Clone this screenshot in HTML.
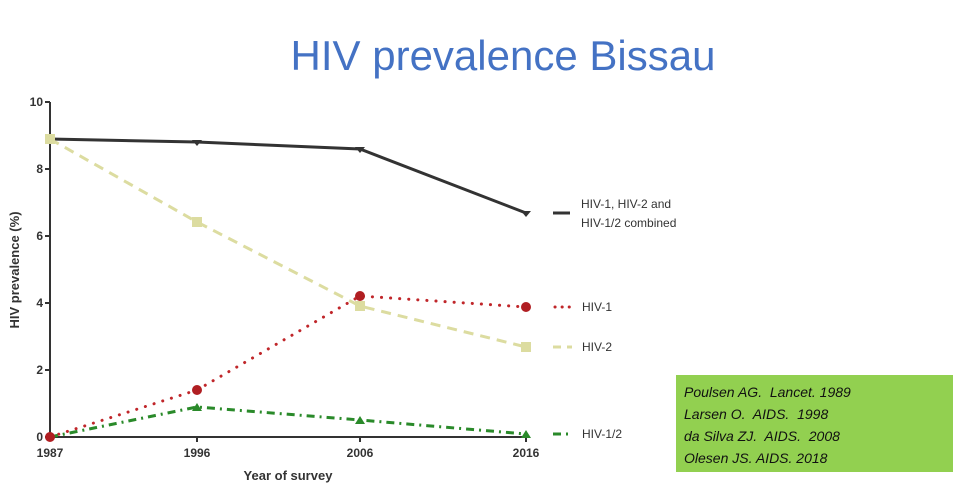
<!DOCTYPE html>
<html><head><style>
body{margin:0;background:#fff;width:964px;height:489px;overflow:hidden;font-family:"Liberation Sans",sans-serif}
</style></head><body>
<svg width="964" height="489" xmlns="http://www.w3.org/2000/svg" style="position:absolute;left:0;top:0">
<text x="503" y="70" text-anchor="middle" font-family="Liberation Sans, sans-serif" font-size="42" fill="#4472c4">HIV prevalence Bissau</text>
<g font-family="Liberation Sans, sans-serif" font-weight="bold" font-size="12" fill="#333">
<line x1="50" y1="102" x2="50" y2="437" stroke="#333" stroke-width="2"/>
<line x1="50" y1="437" x2="526" y2="437" stroke="#333" stroke-width="2"/>
<g stroke="#333" stroke-width="2">
<line x1="45" y1="102" x2="50" y2="102"/><line x1="45" y1="169" x2="50" y2="169"/><line x1="45" y1="236" x2="50" y2="236"/><line x1="45" y1="303" x2="50" y2="303"/><line x1="45" y1="370" x2="50" y2="370"/><line x1="45" y1="437" x2="50" y2="437"/>
<line x1="197" y1="437" x2="197" y2="442"/><line x1="360" y1="437" x2="360" y2="442"/><line x1="526" y1="437" x2="526" y2="442"/>
</g>
<text x="43" y="106" text-anchor="end">10</text><text x="43" y="173" text-anchor="end">8</text><text x="43" y="240" text-anchor="end">6</text><text x="43" y="307" text-anchor="end">4</text><text x="43" y="374" text-anchor="end">2</text><text x="43" y="441" text-anchor="end">0</text>
<text x="50" y="457" text-anchor="middle">1987</text><text x="197" y="457" text-anchor="middle">1996</text><text x="360" y="457" text-anchor="middle">2006</text><text x="526" y="457" text-anchor="middle">2016</text>
<text x="288" y="480" text-anchor="middle" font-size="13">Year of survey</text>
<text transform="translate(19,270) rotate(-90)" text-anchor="middle" font-size="13">HIV prevalence (%)</text>
</g>
<polyline points="50,139 197,142 360,149 526,213" fill="none" stroke="#333" stroke-width="3"/>
<polyline points="50,139 197,222 360,306 526,347" fill="none" stroke="#dcdca0" stroke-width="3" stroke-dasharray="10,7"/>
<polyline points="50,437 197,390 360,296 526,307" fill="none" stroke="#c0262a" stroke-width="3" stroke-dasharray="0.1,9" stroke-linecap="round"/>
<polyline points="50,437 197,407 360,420 526,434" fill="none" stroke="#2a8a2a" stroke-width="3" stroke-dasharray="8,5,2,5"/>
<g fill="#dcdca0"><rect x="45" y="134" width="10" height="10"/><rect x="192" y="217" width="10" height="10"/><rect x="355" y="301" width="10" height="10"/><rect x="521" y="342" width="10" height="10"/></g>
<g fill="#333"><path d="M192,140 h10 l-5,6z"/><path d="M355,147 h10 l-5,6z"/><path d="M521,211 h10 l-5,6z"/></g>
<g fill="#b01e22"><circle cx="50" cy="437" r="5"/><circle cx="197" cy="390" r="5"/><circle cx="360" cy="296" r="5"/><circle cx="526" cy="307" r="5"/></g>
<g fill="#2a8a2a"><path d="M192,411 l5,-8 l5,8z"/><path d="M355,424 l5,-8 l5,8z"/><path d="M521,438 l5,-8 l5,8z"/></g>
<line x1="553" y1="213" x2="570" y2="213" stroke="#333" stroke-width="3"/>
<line x1="555" y1="307" x2="570" y2="307" stroke="#c0262a" stroke-width="3" stroke-dasharray="0.1,7" stroke-linecap="round"/>
<line x1="553" y1="347" x2="572" y2="347" stroke="#dcdca0" stroke-width="3" stroke-dasharray="8,6"/>
<line x1="553" y1="434" x2="572" y2="434" stroke="#2a8a2a" stroke-width="3" stroke-dasharray="8,5,2,5"/>
<g font-family="Liberation Sans, sans-serif" font-size="12" fill="#333">
<text x="581" y="208">HIV-1, HIV-2 and</text><text x="581" y="227">HIV-1/2 combined</text>
<text x="582" y="311">HIV-1</text><text x="582" y="351">HIV-2</text><text x="582" y="438">HIV-1/2</text>
</g>
<rect x="676" y="375" width="277" height="97" fill="#92d050"/>
<g font-family="Liberation Sans, sans-serif" font-size="14" font-style="italic" fill="#111">
<text x="684" y="397">Poulsen AG.&#160; Lancet. 1989</text>
<text x="684" y="419">Larsen O.&#160; AIDS.&#160; 1998</text>
<text x="684" y="441">da Silva ZJ.&#160; AIDS.&#160; 2008</text>
<text x="684" y="463">Olesen JS. AIDS. 2018</text>
</g>
</svg>
</body></html>
